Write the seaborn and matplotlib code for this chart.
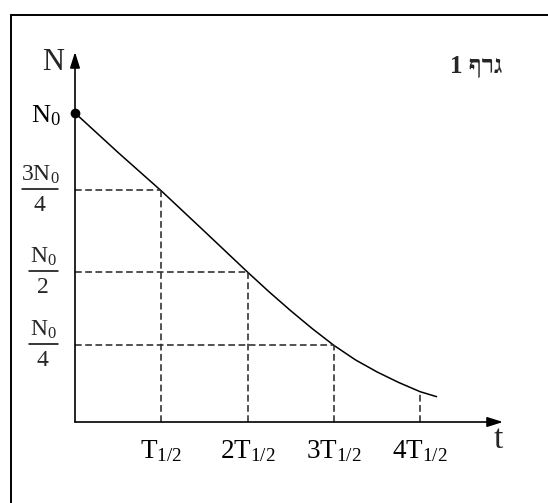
import matplotlib
matplotlib.use("Agg")
import matplotlib.pyplot as plt
from matplotlib.lines import Line2D
from matplotlib import transforms
import seaborn as sns
import pandas as pd

# ---- data (in units of T1/2 and N0) ----
t_points = [0, 0.5, 1, 1.5, 2, 2.25, 2.5, 2.75, 3, 3.25, 3.5, 3.75, 4, 4.19]
n_points = [1.0, 0.872, 0.748, 0.617, 0.485, 0.421, 0.360, 0.302, 0.248,
            0.201, 0.162, 0.128, 0.098, 0.082]

x_tick_pos = [1, 2, 3, 4]
x_tick_labels = [r"$\mathrm{T_{1/2}}$", r"$\mathrm{2T_{1/2}}$",
                 r"$\mathrm{3T_{1/2}}$", r"$\mathrm{4T_{1/2}}$"]
y_tick_pos = [0.249, 0.485, 0.75, 1.0]
y_tick_top_label = r"$\mathrm{N_0}$"
frac_num = [r"$\mathrm{N_0}$", r"$\mathrm{N_0}$", r"$\mathrm{3N_0}$"]
frac_den = ["4", "2", "4"]
h_guide_t = [1, 2, 3]
h_guide_n = [0.75, 0.485, 0.249]
v_guide_t = [1, 2, 3, 4]
v_guide_n = [0.75, 0.485, 0.249, 0.098]
title_text = "1 ףרג"  # "גרף 1" in visual order

sns.set_style("white")
plt.rcParams["font.family"] = ["Liberation Serif", "DejaVu Sans"]
plt.rcParams["mathtext.fontset"] = "custom"
plt.rcParams["mathtext.rm"] = "Liberation Serif"
plt.rcParams["mathtext.it"] = "Liberation Serif:italic"
plt.rcParams["mathtext.bf"] = "Liberation Serif:bold"

W, H = 548, 503
fig = plt.figure(figsize=(W / 100, H / 100), dpi=100)
x0, y0, x1, y1 = 75, 422, 503, 52
ax = fig.add_axes([x0 / W, (H - y0) / H, (x1 - x0) / W, (y0 - y1) / H])
ax.set_xlim(0, (x1 - x0) / 86.3)
ax.set_ylim(0, (y0 - y1) / 309)

df = pd.DataFrame({"t": t_points, "N": n_points})
sns.lineplot(data=df, x="t", y="N", ax=ax, color="black", lw=1.1,
             sort=False, estimator=None)
ax.plot([t_points[0]], [n_points[0]], "o", color="black", ms=6, clip_on=False, zorder=5)

dash = dict(color="#2a2a2a", lw=1.15, linestyle=(0, (4.2, 2.2)))
ax.hlines(h_guide_n, 0, h_guide_t, **dash)
ax.vlines(v_guide_t, 0, v_guide_n, **dash)

for s in ax.spines.values():
    s.set_visible(False)
arrow = dict(arrowstyle="-|>,head_length=0.95,head_width=0.3", color="black",
             lw=1.2, shrinkA=0, shrinkB=0, mutation_scale=10)
ax.annotate("", xy=(1, 0), xytext=(0, 0), xycoords="axes fraction",
            textcoords="axes fraction", arrowprops=arrow)
ax.annotate("", xy=(0, 1), xytext=(0, 0), xycoords="axes fraction",
            textcoords="axes fraction", arrowprops=arrow)

ax.set_xticks(x_tick_pos)
ax.set_xticklabels(x_tick_labels)
ax.set_yticks(y_tick_pos)
ax.set_yticklabels([""] * (len(y_tick_pos) - 1) + [y_tick_top_label])
ax.tick_params(axis="both", direction="out", length=8.5, width=1.0,
               color="black", labelcolor="black")
ax.tick_params(axis="x", pad=3, labelsize=19.5)
ax.tick_params(axis="y", pad=2, labelsize=19)
ax.set_xlabel("")
ax.set_ylabel("")

# fractional y tick labels (numerator / bar / denominator)
fig_x_data_y = transforms.blended_transform_factory(fig.transFigure, ax.transData)
px = 1 / 309.0  # one pixel in data units of N
for lvl, num, den in zip(y_tick_pos[:-1], frac_num, frac_den):
    left = 22 if num.startswith(r"$\mathrm{3") else 29
    right = 58
    cx = (left + right) / 2
    bar_y = lvl + 1.5 * px
    ax.add_line(Line2D([left / W, right / W], [bar_y, bar_y], color="black",
                       lw=1.1, transform=fig_x_data_y, clip_on=False))
    ax.text(cx / W, bar_y + 8 * px, num, fontsize=17, ha="center", va="baseline",
            transform=fig_x_data_y, clip_on=False)
    ax.text((cx - 1) / W, bar_y - 22 * px, den, fontsize=17, ha="center",
            va="baseline", transform=fig_x_data_y, clip_on=False)

fig.text(53 / W, 1 - 63 / H, "N", fontsize=22, ha="center", va="center")
fig.text(498 / W, 1 - 440 / H, "t", fontsize=24, ha="center", va="center")
fig.text(476 / W, 1 - 66 / H, title_text, fontsize=18, fontweight="bold",
         ha="center", va="center")

fig.add_artist(Line2D([11 / W, 11 / W], [0, 1 - 15 / H], color="black", lw=1.4))
fig.add_artist(Line2D([11 / W, 1], [1 - 15 / H, 1 - 15 / H], color="black", lw=1.4))

fig.savefig("out.png", dpi=100)
